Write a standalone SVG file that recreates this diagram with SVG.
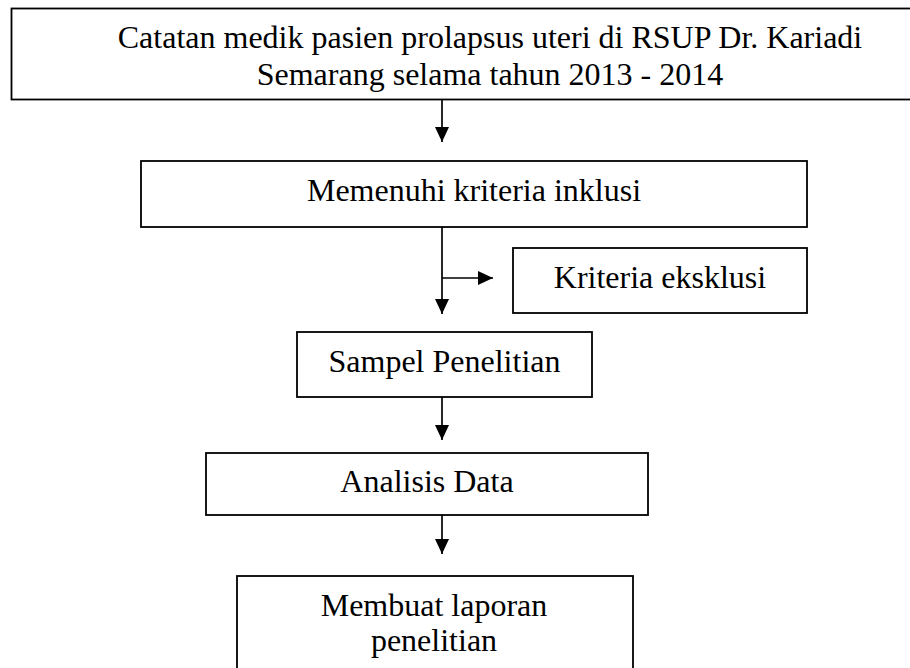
<svg xmlns="http://www.w3.org/2000/svg" width="910" height="668" viewBox="0 0 910 668">
  <defs>
    <style>
      .box { fill: #ffffff; stroke: #000000; stroke-width: 1.8; }
      .lbl { font-family: "Liberation Serif", "Times New Roman", serif; font-size: 32px; fill: #000000; text-anchor: middle; }
      .conn { stroke: #000000; stroke-width: 1.7; fill: none; marker-end: url(#arrow); }
    </style>
    <marker id="arrow" viewBox="0 0 15 14" refX="15" refY="7" markerWidth="15" markerHeight="14" markerUnits="userSpaceOnUse" orient="auto">
      <path d="M0,0 L15,7 L0,14 z" fill="#000000"/>
    </marker>
  </defs>
  <rect x="0" y="0" width="910" height="668" fill="#ffffff"/>

  <g id="connectors">
    <line class="conn" x1="442" y1="100" x2="442" y2="142"/>
    <line class="conn" x1="442" y1="227" x2="442" y2="314"/>
    <line class="conn" x1="442" y1="278" x2="493" y2="278"/>
    <line class="conn" x1="442" y1="397" x2="442" y2="440"/>
    <line class="conn" x1="442" y1="515" x2="442" y2="554"/>
  </g>

  <g id="node-catatan">
    <rect class="box" x="11.5" y="8.5" width="905" height="91"/>
    <text class="lbl" x="490" y="48">Catatan medik pasien prolapsus uteri di RSUP Dr. Kariadi</text>
    <text class="lbl" x="490" y="85">Semarang selama tahun 2013 - 2014</text>
  </g>

  <g id="node-inklusi">
    <rect class="box" x="141" y="161" width="666" height="66"/>
    <text class="lbl" x="474" y="201">Memenuhi kriteria inklusi</text>
  </g>

  <g id="node-eksklusi">
    <rect class="box" x="513" y="248" width="294" height="65"/>
    <text class="lbl" x="660" y="288">Kriteria eksklusi</text>
  </g>

  <g id="node-sampel">
    <rect class="box" x="297" y="332" width="295" height="65"/>
    <text class="lbl" x="444.5" y="372">Sampel Penelitian</text>
  </g>

  <g id="node-analisis">
    <rect class="box" x="206" y="453" width="442" height="62"/>
    <text class="lbl" x="427" y="492">Analisis Data</text>
  </g>

  <g id="node-laporan">
    <rect class="box" x="237" y="576" width="396" height="110"/>
    <text class="lbl" x="434" y="616">Membuat laporan</text>
    <text class="lbl" x="434" y="651">penelitian</text>
  </g>
</svg>
